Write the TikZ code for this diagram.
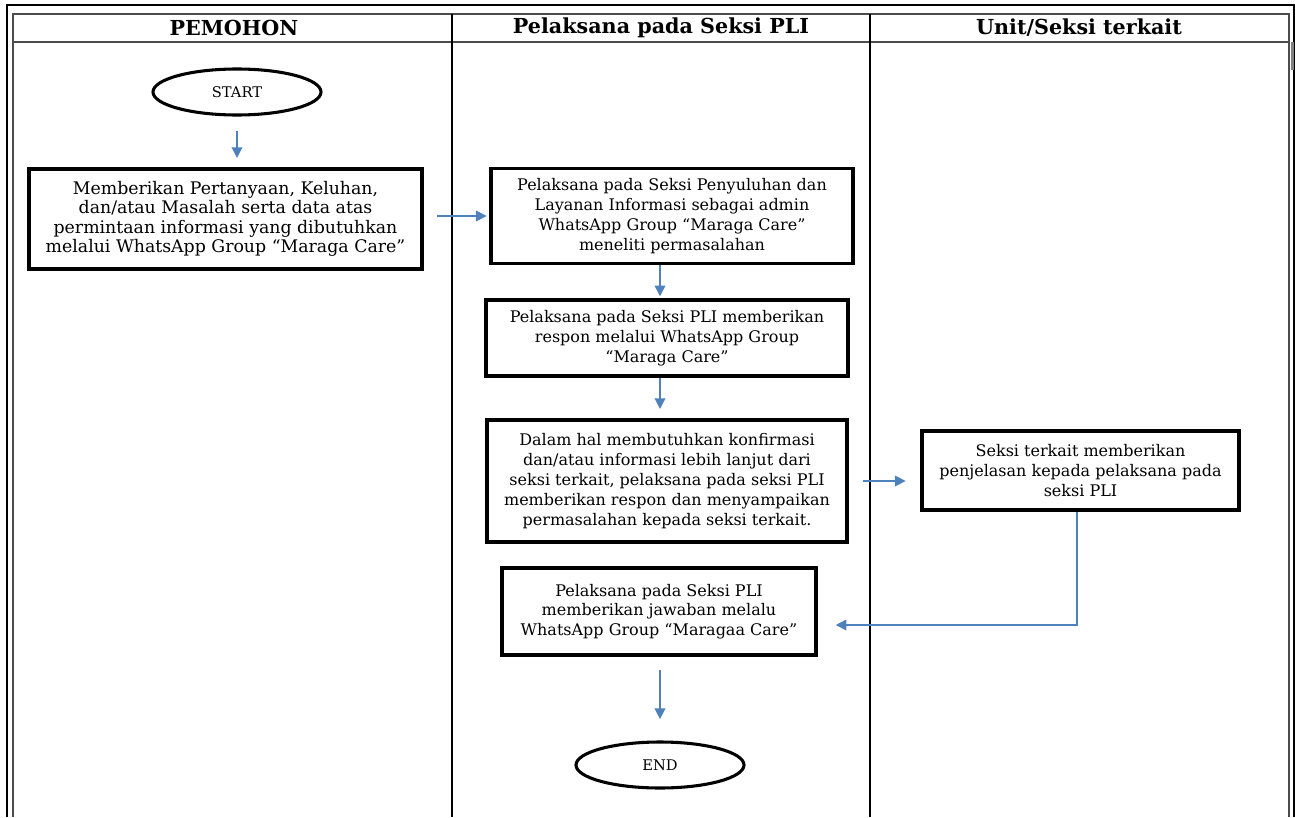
\documentclass[tikz,border=0pt]{standalone}
\usepackage{fontspec}
\setmainfont{DejaVu Serif}
\usetikzlibrary{positioning}
\usetikzlibrary{shapes.geometric}
\usetikzlibrary{arrows.meta}
\definecolor{flowblue}{RGB}{79,129,189}
\tikzset{
  box/.style={draw,line width=2.6pt,align=center,inner sep=2pt,font=\fontsize{12}{14.8}\selectfont},
  terminal/.style={draw,ellipse,line width=2.3pt,minimum width=126pt,minimum height=34.5pt,font=\fontsize{11}{13}\selectfont},
  flow/.style={flowblue,line width=1.1pt,-{Triangle[length=8pt,width=8pt]}},
  lane/.style={font=\bfseries\fontsize{15.5}{17}\selectfont}
}
\begin{document}
\begin{tikzpicture}[x=0.75pt,y=-0.75pt]
\useasboundingbox (0,0) rectangle (1295,817);
\draw[line width=1.2pt](7,817)--(7,5)--(1294,5)--(1294,817);
\draw[gray!60!black,line width=1.5pt](13,817)--(13,14)--(1289,14)--(1289,817);
\draw[gray!60!black,line width=1.5pt](13,42)--(1289,42);
\draw[line width=0.8pt](452,14)--(452,817);
\draw[line width=0.8pt](870,14)--(870,817);
\draw[gray,line width=2pt](1292.5,42)--(1292.5,70);

\node (pemohon) at (234,28)[lane]{PEMOHON};
\node (pelaksana) at (661,28)[lane]{Pelaksana pada Seksi PLI};
\node (unit) at (1079,28)[lane]{Unit/Seksi terkait};

\node (start) at (237,92)[terminal]{START};
\node (box1) at (225.5,219)[box,minimum width=294.75pt,minimum height=75pt,font=\fontsize{13}{14.6}\selectfont]{Memberikan Pertanyaan, Keluhan,\\ dan/atau Masalah serta data atas\\ permintaan informasi yang dibutuhkan\\ melalui WhatsApp Group “Maraga Care”};
\node (box2) at (672,216)[box,minimum width=271.5pt,minimum height=71.25pt]{Pelaksana pada Seksi Penyuluhan dan\\ Layanan Informasi sebagai admin\\ WhatsApp Group “Maraga Care”\\ meneliti permasalahan};
\node (box3) at (667,338)[box,minimum width=271.5pt,minimum height=57pt]{Pelaksana pada Seksi PLI memberikan\\ respon melalui WhatsApp Group\\ “Maraga Care”};
\node (box4) at (667,481)[box,minimum width=270pt,minimum height=91.5pt,font=\fontsize{12}{15}\selectfont]{Dalam hal membutuhkan konfirmasi\\ dan/atau informasi lebih lanjut dari\\ seksi terkait, pelaksana pada seksi PLI\\ memberikan respon dan menyampaikan\\ permasalahan kepada seksi terkait.};
\node (box5) at (1080.5,470.5)[box,minimum width=237.75pt,minimum height=59.25pt]{Seksi terkait memberikan\\ penjelasan kepada pelaksana pada\\ seksi PLI};
\node (box6) at (659,611.5)[box,minimum width=235.5pt,minimum height=65.25pt]{Pelaksana pada Seksi PLI\\ memberikan jawaban melalu\\ WhatsApp Group “Maragaa Care”};
\node (end) at (660,765)[terminal]{END};

\coordinate (axis) at (660,0);
\coordinate (bend) at (1077,625);

\draw[flow,shorten <=11pt,shorten >=7pt](start.south)--(start.south|-box1.north);
\draw[flow,shorten <=10pt,shorten >=2pt](box1.east|-box2.west)--(box2.west);
\draw[flow,shorten >=1.5pt](box2.south-|axis)--(box3.north-|axis);
\draw[flow,shorten >=7pt](box3.south-|axis)--(box4.north-|axis);
\draw[flow,shorten <=10.5pt,shorten >=11pt](box4.east)--(box4.east-|box5.west);
\draw[flow,shorten >=13.5pt](box5.south-|bend)--(bend)--(bend-|box6.east);
\draw[flow,shorten <=10pt,shorten >=16pt](box6.south-|axis)--(end.north-|axis);
\end{tikzpicture}
\end{document}
